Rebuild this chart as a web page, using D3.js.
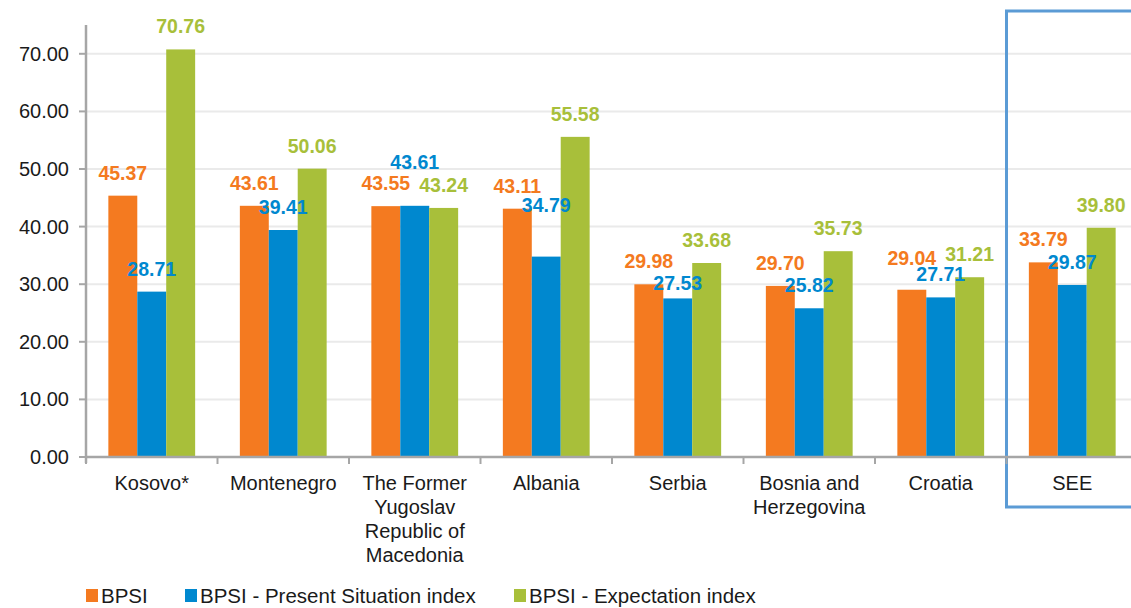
<!DOCTYPE html>
<html>
<head>
<meta charset="utf-8">
<style>
  body { margin: 0; background: #fff; }
  svg { font-family: "Liberation Sans", Arial, sans-serif; }
</style>
</head>
<body>
<svg width="1131" height="608"></svg>
<script src="https://d3js.org/d3.v7.min.js"></script>
<script>
// data
let categories = ["Kosovo*", "Montenegro", "The Former Yugoslav Republic of Macedonia", "Albania", "Serbia", "Bosnia and Herzegovina", "Croatia", "SEE"];
let categoryLines = [["Kosovo*"], ["Montenegro"], ["The Former", "Yugoslav", "Republic of", "Macedonia"], ["Albania"], ["Serbia"], ["Bosnia and", "Herzegovina"], ["Croatia"], ["SEE"]];
let seriesNames = ["BPSI", "BPSI - Present Situation index", "BPSI - Expectation index"];
let bpsi        = [45.37, 43.61, 43.55, 43.11, 29.98, 29.70, 29.04, 33.79];
let present     = [28.71, 39.41, 43.61, 34.79, 27.53, 25.82, 27.71, 29.87];
let expectation = [70.76, 50.06, 43.24, 55.58, 33.68, 35.73, 31.21, 39.80];
let yTicks = [0, 10, 20, 30, 40, 50, 60, 70];

let colors = ["#f47a20", "#0088cf", "#a8bf3a"];
let series = [bpsi, present, expectation];

// a few labels were moved by hand in the original chart (extra lift in px)
let labelLift = { "2-1": 21, "3-1": 29, "4-1": -8, "6-0": 9 };

let svg = d3.select("svg");
let left = 86, bottom = 457;

let y = d3.scaleLinear().domain([0, 75]).range([bottom, 25]);
let x = d3.scaleBand().domain(categories).range([left, left + 8 * 131.5])
    .paddingInner(0.34).paddingOuter(0.17);
let xs = d3.scaleBand().domain([0, 1, 2]).range([0, x.bandwidth()]);
let gap = (x.step() - x.bandwidth()) / 2;

// gridlines
svg.append("g")
    .selectAll("line")
    .data(yTicks.filter(d => d > 0))
    .join("line")
    .attr("x1", left).attr("x2", 1131)
    .attr("y1", d => y(d)).attr("y2", d => y(d))
    .style("stroke", "#eaeaea").style("stroke-width", 2);

// SEE box
let seeX = x("SEE") - gap;
svg.append("rect")
    .attr("x", seeX).attr("y", 11)
    .attr("width", 140).attr("height", 496)
    .style("fill", "none").style("stroke", "#5b9bd5").style("stroke-width", 3);

// bars
let groups = svg.append("g").selectAll("g")
    .data(categories)
    .join("g")
    .attr("transform", d => `translate(${x(d)},0)`);

groups.selectAll("rect")
    .data((d, i) => series.map((s, j) => ({ j: j, v: s[i] })))
    .join("rect")
    .attr("x", d => xs(d.j))
    .attr("width", xs.bandwidth())
    .attr("y", d => y(d.v))
    .attr("height", d => bottom - y(d.v))
    .style("fill", d => colors[d.j]);

// value labels
groups.selectAll("text")
    .data((d, i) => series.map((s, j) => ({ i: i, j: j, v: s[i] })))
    .join("text")
    .attr("x", d => xs(d.j) + xs.bandwidth() / 2)
    .attr("y", d => y(d.v) - 16 - (labelLift[d.i + "-" + d.j] || 0))
    .attr("text-anchor", "middle")
    .style("font-size", "19.5px")
    .style("font-weight", "bold")
    .style("fill", d => colors[d.j])
    .text(d => d.v.toFixed(2));

// y axis
let yAxis = svg.append("g");
yAxis.append("line")
    .attr("x1", left).attr("x2", left)
    .attr("y1", 25).attr("y2", bottom + 6)
    .style("stroke", "#a6a6a6").style("stroke-width", 2.5);
yAxis.selectAll(".tick")
    .data(yTicks)
    .join("line")
    .attr("x1", left - 7).attr("x2", left)
    .attr("y1", d => y(d)).attr("y2", d => y(d))
    .style("stroke", "#a6a6a6").style("stroke-width", 2);
yAxis.selectAll("text")
    .data(yTicks)
    .join("text")
    .attr("x", 69)
    .attr("y", d => y(d) + 7)
    .attr("text-anchor", "end")
    .style("font-size", "20px")
    .style("fill", "#1a1a1a")
    .text(d => d.toFixed(2));

// x axis
let xAxis = svg.append("g");
xAxis.append("line")
    .attr("x1", left).attr("x2", 1131)
    .attr("y1", bottom).attr("y2", bottom)
    .style("stroke", "#a6a6a6").style("stroke-width", 2.5);
xAxis.selectAll("line.t")
    .data(categories)
    .join("line")
    .attr("class", "t")
    .attr("x1", d => x(d) - gap).attr("x2", d => x(d) - gap)
    .attr("y1", bottom).attr("y2", bottom + 7)
    .style("stroke", "#a6a6a6").style("stroke-width", 2);

xAxis.selectAll("text")
    .data(categories)
    .join("text")
    .attr("x", d => x(d) + x.bandwidth() / 2)
    .attr("y", 490)
    .attr("text-anchor", "middle")
    .style("font-size", "20px")
    .style("fill", "#1a1a1a")
    .each(function (d, i) {
        d3.select(this).selectAll("tspan")
            .data(categoryLines[i])
            .join("tspan")
            .attr("x", x(d) + x.bandwidth() / 2)
            .attr("dy", (t, k) => k === 0 ? 0 : 24)
            .text(t => t);
    });

// legend
let legendX = [86, 185, 514];
let legend = svg.append("g").selectAll("g")
    .data(seriesNames)
    .join("g")
    .attr("transform", (d, i) => `translate(${legendX[i]},589)`);
legend.append("rect")
    .attr("width", 12).attr("height", 13)
    .style("fill", (d, i) => colors[i]);
legend.append("text")
    .attr("x", 15).attr("y", 14)
    .style("font-size", "20.5px")
    .style("fill", "#1a1a1a")
    .text(d => d);
</script>
</body>
</html>
